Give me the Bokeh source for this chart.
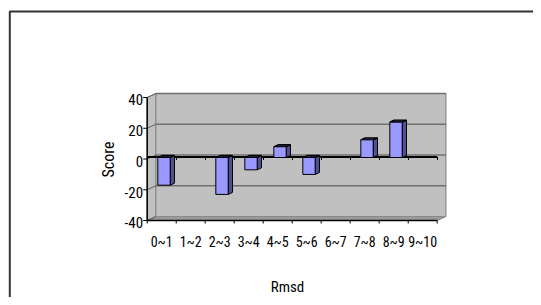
from bokeh.plotting import figure
from bokeh.models import Range1d
from bokeh.core.properties import value
from bokeh.embed import file_html
from bokeh.resources import INLINE

# ---- data ----
categories = ["0~1", "1~2", "2~3", "3~4", "4~5", "5~6", "6~7", "7~8", "8~9", "9~10"]
scores = [-18, 0, -24, -8, 7, -11, 0, 11.5, 23, 0]
y_ticks = [40, 20, 0, -20, -40]
y_tick_labels = ["40", "20", "0", "-20", "-40"]
x_title = "Rmsd"
y_title = "Score"

W, H = 533, 297
# pixel geometry of the front axes
X0_PX, CAT_PX = 146.7, 29.0
Y40_PX, YM40_PX = 97.0, 220.0
SY = (YM40_PX - Y40_PX) / 80.0

x_start = -X0_PX / CAT_PX
x_end = x_start + W / CAT_PX
y_top = 40 + Y40_PX / SY
y_bot = -40 - (H - YM40_PX) / SY

def px2x(px):
    return x_start + px / CAT_PX

def py2y(py):
    return y_top - py / SY

FONT = value("Roboto Condensed")

p = figure(width=W, height=H, output_backend="svg", toolbar_location=None,
           x_range=Range1d(x_start, x_end), y_range=Range1d(y_bot, y_top),
           min_border=0, min_border_left=0, min_border_right=0,
           min_border_top=0, min_border_bottom=0)
p.axis.visible = False
p.grid.visible = False
p.outline_line_color = None
p.background_fill_color = "white"
p.border_fill_color = "white"

n = len(categories)
ymin, ymax = y_ticks[-1], y_ticks[0]
dx = 8.7 / CAT_PX      # depth offset (x)
dy = 4.0 / SY          # depth offset (y)

# outer chart border
bx, by = px2x(9.3), py2y(11.0)
p.line([bx, bx, px2x(W + 20)], [py2y(H + 20), by, by], line_color="#333333", line_width=2)

# left side wall
p.patch([0, 0, dx, dx], [ymin, ymax, ymax + dy, ymin + dy],
        fill_color="#C0C0C0", line_color="#808080", line_width=1)
# floor
p.patch([0, n, n + dx, dx], [ymin, ymin, ymin + dy, ymin + dy],
        fill_color="#9A9A9A", line_color="#808080", line_width=1)
# back wall
p.quad(left=dx, right=n + dx, bottom=ymin + dy, top=ymax + dy,
       fill_color="#C0C0C0", line_color="#8A8A8A", line_width=1.2)
p.line([dx, n + dx], [ymax + dy, ymax + dy], line_color="#707070", line_width=1.5)

# gridlines on back wall and side wall
for v in y_ticks[1:-1]:
    p.line([dx, n + dx], [v + dy, v + dy], line_color="#707070", line_width=1.5)
for v in y_ticks:
    p.line([0, dx], [v, v + dy], line_color="#606060", line_width=1)

# value axis (front-left)
p.line([0, 0], [ymin, ymax], line_color="black", line_width=1.5)
tick_len = 4.0 / CAT_PX
for v in y_ticks:
    p.line([-tick_len, 0], [v, v], line_color="black", line_width=1)

# floor front edge with ticks
p.line([0, n], [ymin, ymin], line_color="black", line_width=1.5)
for k in range(n + 1):
    p.line([k, k], [ymin, ymin - 3.0 / SY], line_color="black", line_width=1)

# zero (category) axis line at mid-depth
zoff = 2.0 / SY
xoff = 0.3 / CAT_PX
p.line([0, n], [zoff, zoff], line_color="black", line_width=2)
for k in range(1, n + 1):
    p.line([k + xoff, k + xoff], [zoff, zoff - 3.0 / SY], line_color="black", line_width=1)

# 3D bars
bl, br = 0.366, 0.793
sdx, sdy = 4.3 / CAT_PX, 2.0 / SY
base = 1.5 / SY
front_l, front_r, front_b, front_t = [], [], [], []
side_xs, side_ys, top_xs, top_ys = [], [], [], []
for i, s in enumerate(scores):
    if s == 0:
        continue
    l, r = i + bl, i + br
    lo, hi = base + min(s, 0), base + max(s, 0)
    front_l.append(l); front_r.append(r); front_b.append(lo); front_t.append(hi)
    side_xs.append([r, r + sdx, r + sdx, r])
    side_ys.append([lo, lo + sdy, hi + sdy, hi])
    top_xs.append([l, r, r + sdx, l + sdx])
    top_ys.append([hi, hi, hi + sdy, hi + sdy])

p.patches(side_xs, side_ys, fill_color="#50508F", line_color="black", line_width=1)
p.patches(top_xs, top_ys, fill_color="#3A3A70", line_color="black", line_width=1.3)
p.quad(left=front_l, right=front_r, bottom=front_b, top=front_t,
       fill_color="#9999FF", line_color="black", line_width=1)

# y tick labels
p.text(x=[-0.14] * len(y_ticks), y=[v - 1.5 for v in y_ticks], text=y_tick_labels,
       text_align="right", text_baseline="middle", text_font=FONT,
       text_font_size="15px", text_color="black")

# category labels
p.text(x=[i + 0.5 for i in range(n)], y=[py2y(241.0)] * n, text=categories,
       text_align="center", text_baseline="middle", text_font=FONT,
       text_font_size="14px", text_color="black")

# axis titles
p.text(x=[px2x(287.0)], y=[py2y(286.5)], text=[x_title],
       text_align="center", text_baseline="middle", text_font=FONT,
       text_font_size="15px", text_color="black")
p.text(x=[px2x(108.0)], y=[py2y(159.0)], text=[y_title], angle=1.5708,
       text_align="center", text_baseline="middle", text_font=FONT,
       text_font_size="16px", text_color="black")

open("out.html", "w").write(file_html(p, INLINE))
